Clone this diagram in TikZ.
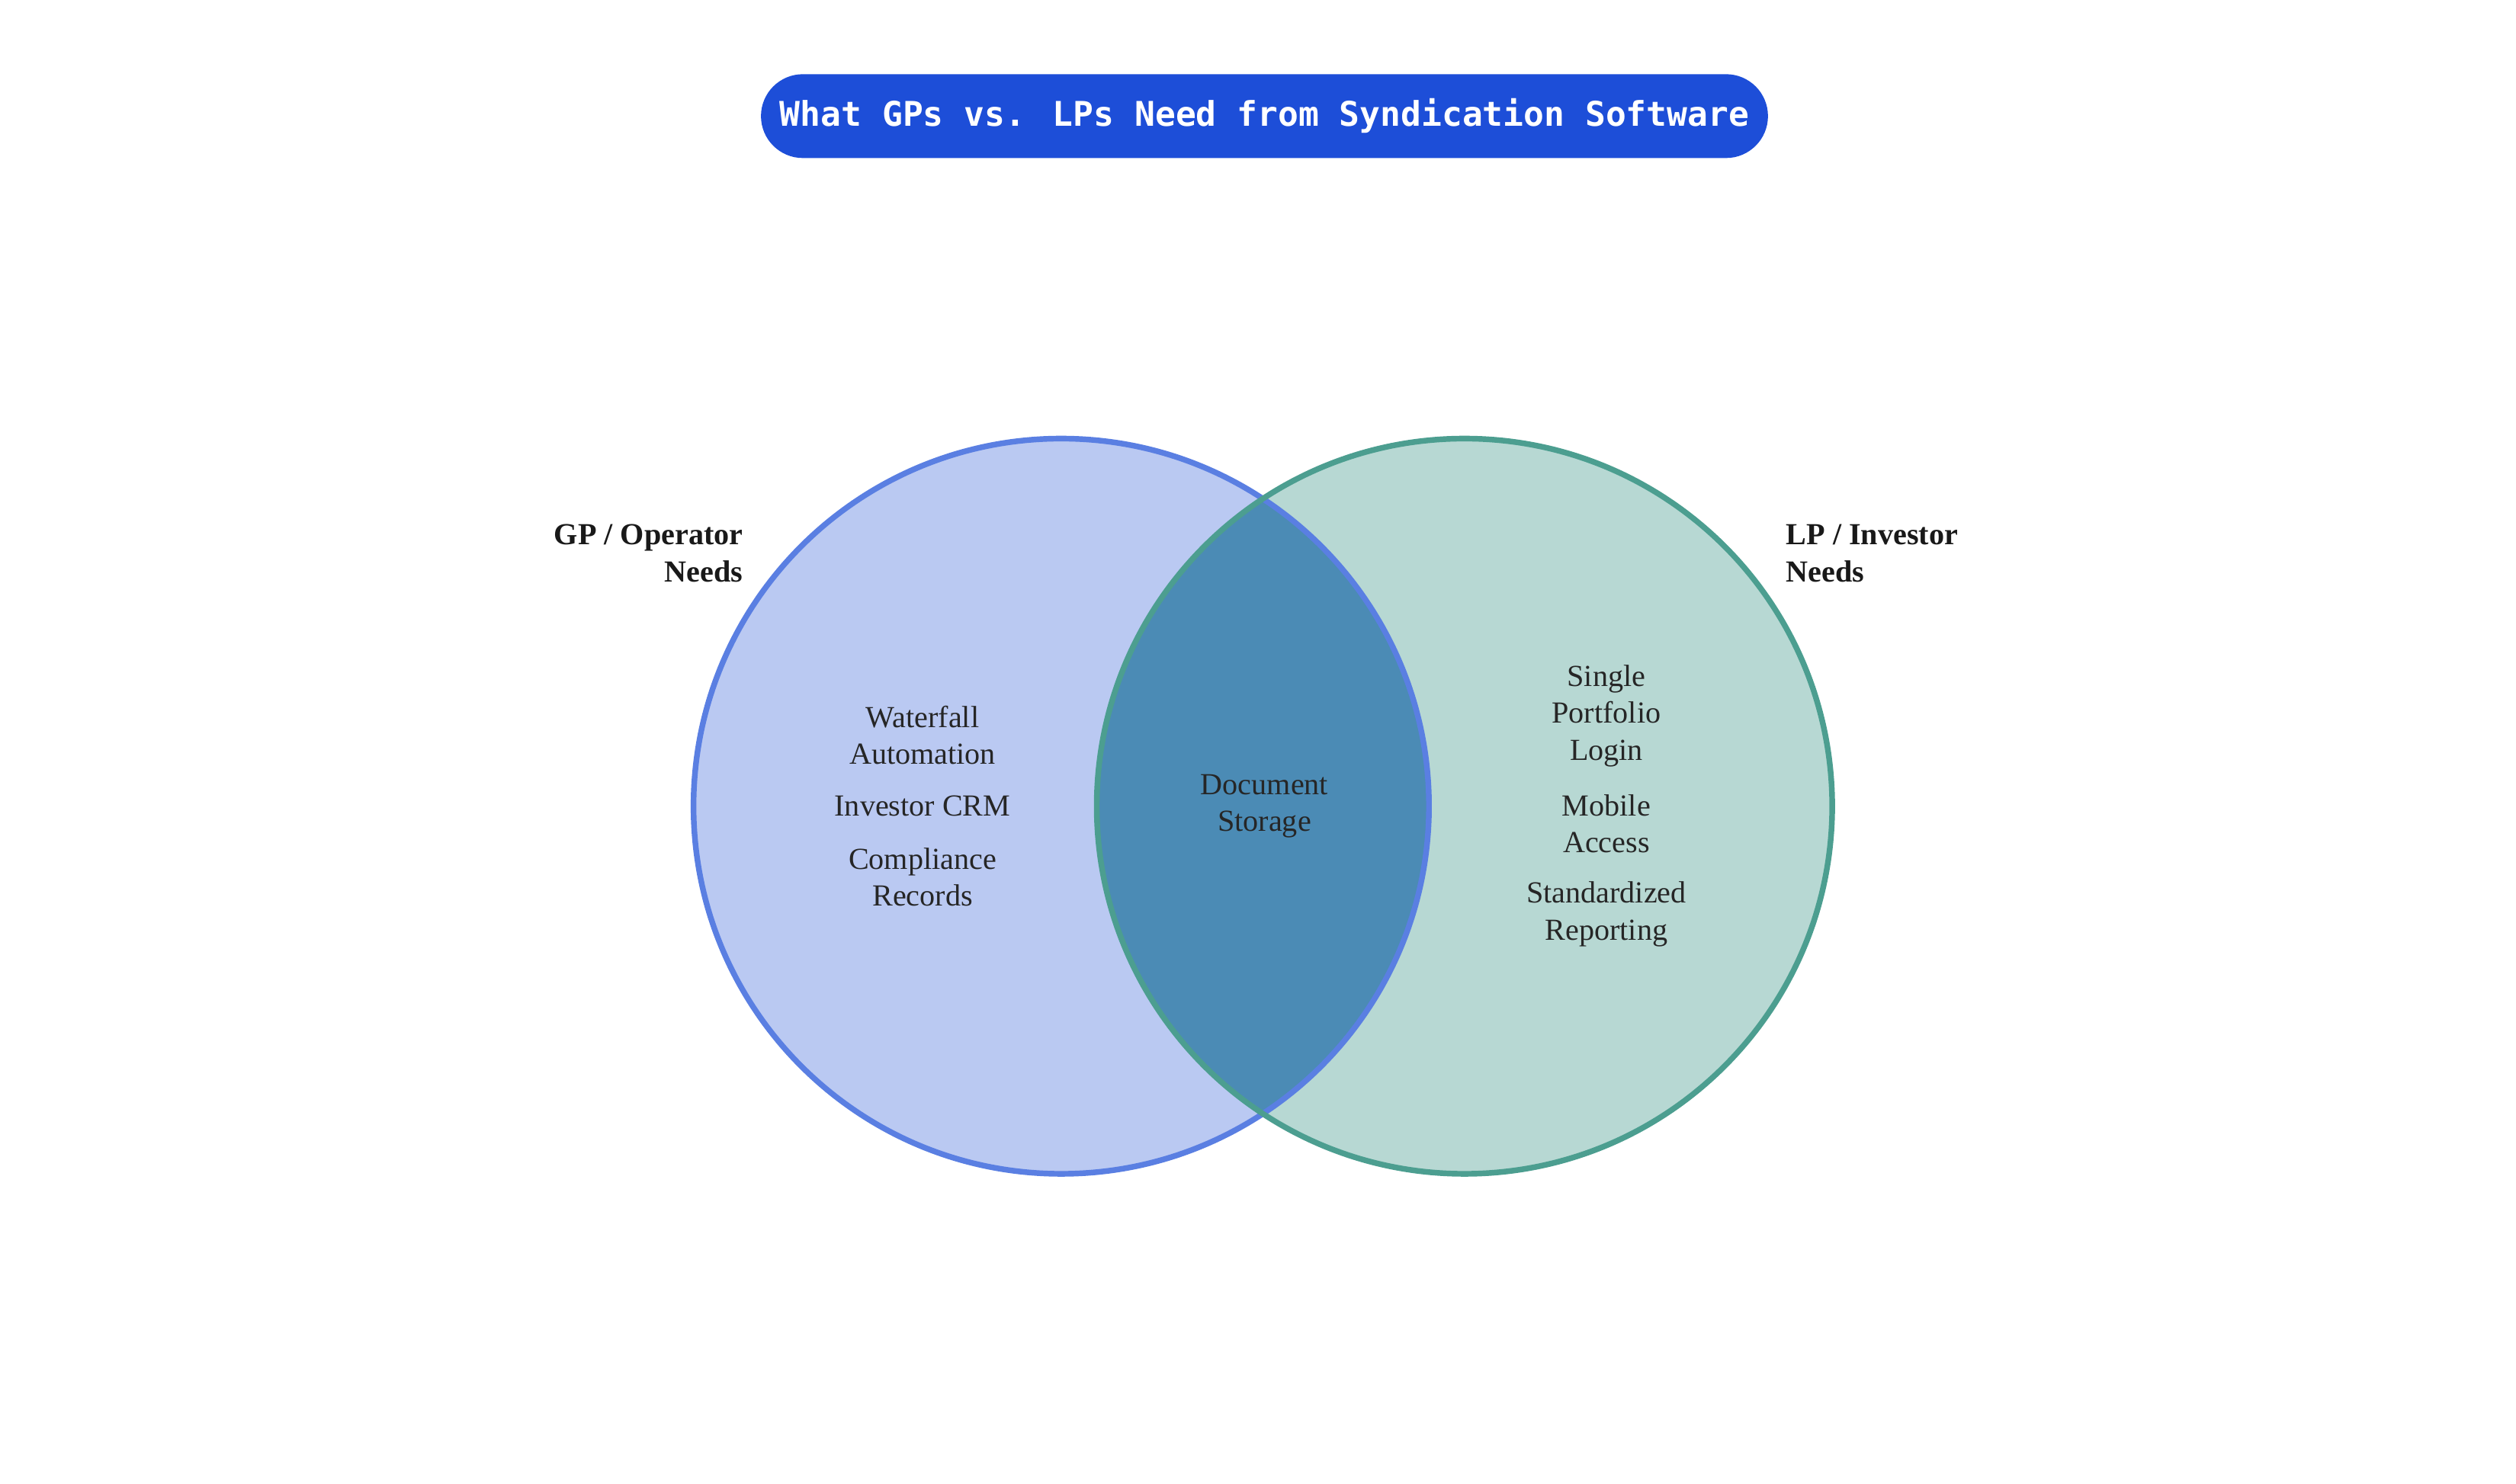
\documentclass[tikz,border=0pt]{standalone}
\usepackage{fontspec}
\setmainfont{Liberation Serif}
\newfontfamily\titlefont{DejaVu Sans Mono}
\definecolor{GpFill}{HTML}{BAC9F2}
\definecolor{GpLine}{HTML}{5A7FE2}
\definecolor{LpFill}{HTML}{B7D8D3}
\definecolor{LpLine}{HTML}{4C9E90}
\definecolor{BothFill}{HTML}{4B8BB5}
\definecolor{TitleBlue}{HTML}{1D4ED8}
\tikzset{
  set/.style={circle, minimum size=4.56cm, inner sep=0pt, line width=1pt},
  item/.style={align=center, font=\fontsize{5.4}{6.5}\selectfont, text=black!85},
  head/.style={font=\bfseries\fontsize{5.4}{6.5}\selectfont, text=black!90}
}
\begin{document}
\begin{tikzpicture}[y=-1cm]
\useasboundingbox (0,0) rectangle (15.6,9.2);
% title
\node[fill=TitleBlue, rounded corners=0.26cm, minimum width=6.2cm, minimum height=0.52cm,
  text=white, font=\titlefont\bfseries\fontsize{6}{7}\selectfont] (title) at (7.84,0.72)
  {What GPs vs. LPs Need from Syndication Software};
% sets
\node[set, fill=GpFill] (gp) at (6.58,5.0) {};
\node[set, fill=LpFill] (lp) at (9.08,5.0) {};
\begin{scope}
\clip (6.58,5.0) circle (2.28);
\fill[BothFill] (9.08,5.0) circle (2.28);
\end{scope}
\draw[GpLine, line width=1pt] (gp.center) circle (2.28);
\draw[LpLine, line width=1pt] (lp.center) circle (2.28);
% set labels
\node[head, align=right, anchor=north east] (gplabel) at (4.73,3.13) {GP / Operator\\Needs};
\node[head, align=left, anchor=north west] (lplabel) at (10.95,3.13) {LP / Investor\\Needs};
% items
\node[item] (waterfall) at (5.72,4.56) {Waterfall\\Automation};
\node[item] (crm) at (5.72,5.0) {Investor CRM};
\node[item] (compliance) at (5.72,5.44) {Compliance\\Records};
\node[item] (docs) at (7.84,5.0) {Document\\Storage};
\node[item] (login) at (9.96,4.44) {Single\\Portfolio\\Login};
\node[item] (mobile) at (9.96,5.11) {Mobile\\Access};
\node[item] (reporting) at (9.96,5.67) {Standardized\\Reporting};
\end{tikzpicture}
\end{document}
